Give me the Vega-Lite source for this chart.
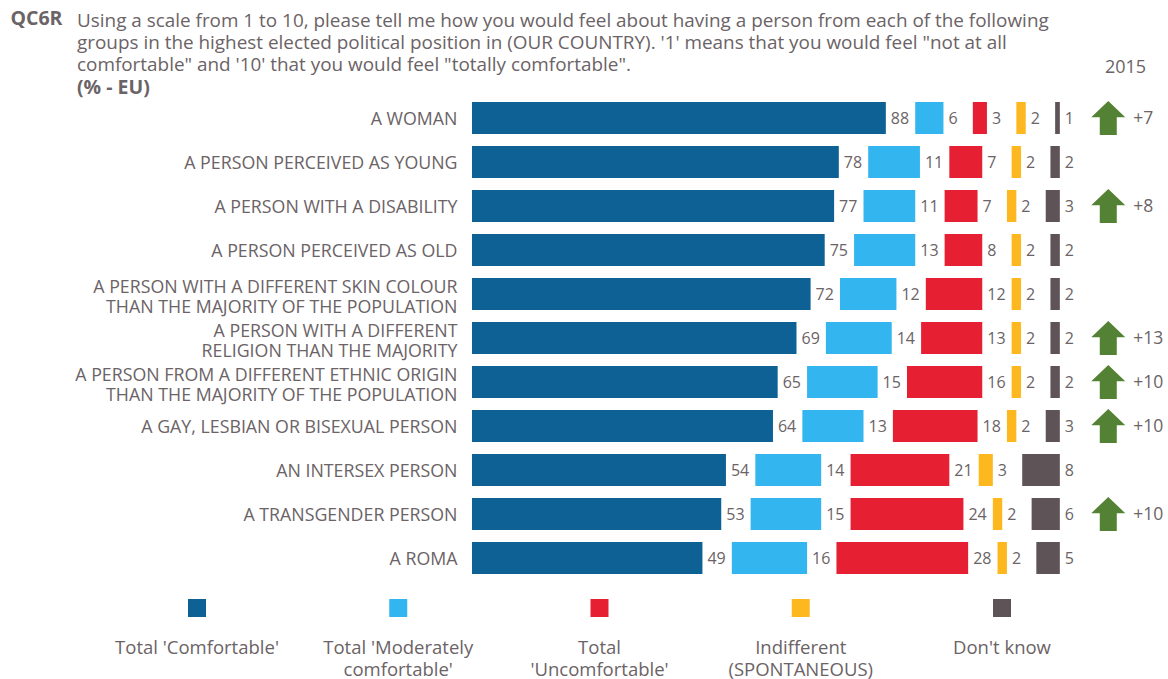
{
  "$schema": "https://vega.github.io/schema/vega-lite/v6.json",
  "width": 696,
  "height": 572,
  "autosize": "none",
  "padding": {"left": 472, "top": 96, "right": 0, "bottom": 11},
  "background": "white",
  "config": {
    "font": "Open Sans",
    "view": {"stroke": null},
    "text": {"font": "Open Sans", "color": "#6b6366"}
  },
  "title": {
    "text": [
      "Using a scale from 1 to 10, please tell me how you would feel about having a person from each of the following",
      "groups in the highest elected political position in (OUR COUNTRY). '1' means that you would feel \"not at all",
      "comfortable\" and '10' that you would feel \"totally comfortable\"."
    ],
    "subtitle": "(% - EU)",
    "anchor": "start",
    "frame": "group",
    "orient": "top",
    "dx": -395,
    "offset": -104,
    "baseline": "alphabetic",
    "fontSize": 18.9,
    "fontWeight": "normal",
    "color": "#6b6366",
    "lineHeight": 22,
    "subtitleFontSize": 19.5,
    "subtitleFontWeight": "bold",
    "subtitleColor": "#6b6366",
    "subtitleLineHeight": 22,
    "subtitlePadding": 4
  },
  "datasets": {
    "answers": [
      {"group": "A WOMAN", "answer": "Total 'Comfortable'", "value": 88},
      {"group": "A WOMAN", "answer": "Total 'Moderately comfortable'", "value": 6},
      {"group": "A WOMAN", "answer": "Total 'Uncomfortable'", "value": 3},
      {"group": "A WOMAN", "answer": "Indifferent (SPONTANEOUS)", "value": 2},
      {"group": "A WOMAN", "answer": "Don't know", "value": 1},
      {"group": "A PERSON PERCEIVED AS YOUNG", "answer": "Total 'Comfortable'", "value": 78},
      {"group": "A PERSON PERCEIVED AS YOUNG", "answer": "Total 'Moderately comfortable'", "value": 11},
      {"group": "A PERSON PERCEIVED AS YOUNG", "answer": "Total 'Uncomfortable'", "value": 7},
      {"group": "A PERSON PERCEIVED AS YOUNG", "answer": "Indifferent (SPONTANEOUS)", "value": 2},
      {"group": "A PERSON PERCEIVED AS YOUNG", "answer": "Don't know", "value": 2},
      {"group": "A PERSON WITH A DISABILITY", "answer": "Total 'Comfortable'", "value": 77},
      {"group": "A PERSON WITH A DISABILITY", "answer": "Total 'Moderately comfortable'", "value": 11},
      {"group": "A PERSON WITH A DISABILITY", "answer": "Total 'Uncomfortable'", "value": 7},
      {"group": "A PERSON WITH A DISABILITY", "answer": "Indifferent (SPONTANEOUS)", "value": 2},
      {"group": "A PERSON WITH A DISABILITY", "answer": "Don't know", "value": 3},
      {"group": "A PERSON PERCEIVED AS OLD", "answer": "Total 'Comfortable'", "value": 75},
      {"group": "A PERSON PERCEIVED AS OLD", "answer": "Total 'Moderately comfortable'", "value": 13},
      {"group": "A PERSON PERCEIVED AS OLD", "answer": "Total 'Uncomfortable'", "value": 8},
      {"group": "A PERSON PERCEIVED AS OLD", "answer": "Indifferent (SPONTANEOUS)", "value": 2},
      {"group": "A PERSON PERCEIVED AS OLD", "answer": "Don't know", "value": 2},
      {"group": "A PERSON WITH A DIFFERENT SKIN COLOUR|THAN THE MAJORITY OF THE POPULATION", "answer": "Total 'Comfortable'", "value": 72},
      {"group": "A PERSON WITH A DIFFERENT SKIN COLOUR|THAN THE MAJORITY OF THE POPULATION", "answer": "Total 'Moderately comfortable'", "value": 12},
      {"group": "A PERSON WITH A DIFFERENT SKIN COLOUR|THAN THE MAJORITY OF THE POPULATION", "answer": "Total 'Uncomfortable'", "value": 12},
      {"group": "A PERSON WITH A DIFFERENT SKIN COLOUR|THAN THE MAJORITY OF THE POPULATION", "answer": "Indifferent (SPONTANEOUS)", "value": 2},
      {"group": "A PERSON WITH A DIFFERENT SKIN COLOUR|THAN THE MAJORITY OF THE POPULATION", "answer": "Don't know", "value": 2},
      {"group": "A PERSON WITH A DIFFERENT|RELIGION THAN THE MAJORITY", "answer": "Total 'Comfortable'", "value": 69},
      {"group": "A PERSON WITH A DIFFERENT|RELIGION THAN THE MAJORITY", "answer": "Total 'Moderately comfortable'", "value": 14},
      {"group": "A PERSON WITH A DIFFERENT|RELIGION THAN THE MAJORITY", "answer": "Total 'Uncomfortable'", "value": 13},
      {"group": "A PERSON WITH A DIFFERENT|RELIGION THAN THE MAJORITY", "answer": "Indifferent (SPONTANEOUS)", "value": 2},
      {"group": "A PERSON WITH A DIFFERENT|RELIGION THAN THE MAJORITY", "answer": "Don't know", "value": 2},
      {"group": "A PERSON FROM A DIFFERENT ETHNIC ORIGIN|THAN THE MAJORITY OF THE POPULATION", "answer": "Total 'Comfortable'", "value": 65},
      {"group": "A PERSON FROM A DIFFERENT ETHNIC ORIGIN|THAN THE MAJORITY OF THE POPULATION", "answer": "Total 'Moderately comfortable'", "value": 15},
      {"group": "A PERSON FROM A DIFFERENT ETHNIC ORIGIN|THAN THE MAJORITY OF THE POPULATION", "answer": "Total 'Uncomfortable'", "value": 16},
      {"group": "A PERSON FROM A DIFFERENT ETHNIC ORIGIN|THAN THE MAJORITY OF THE POPULATION", "answer": "Indifferent (SPONTANEOUS)", "value": 2},
      {"group": "A PERSON FROM A DIFFERENT ETHNIC ORIGIN|THAN THE MAJORITY OF THE POPULATION", "answer": "Don't know", "value": 2},
      {"group": "A GAY, LESBIAN OR BISEXUAL PERSON", "answer": "Total 'Comfortable'", "value": 64},
      {"group": "A GAY, LESBIAN OR BISEXUAL PERSON", "answer": "Total 'Moderately comfortable'", "value": 13},
      {"group": "A GAY, LESBIAN OR BISEXUAL PERSON", "answer": "Total 'Uncomfortable'", "value": 18},
      {"group": "A GAY, LESBIAN OR BISEXUAL PERSON", "answer": "Indifferent (SPONTANEOUS)", "value": 2},
      {"group": "A GAY, LESBIAN OR BISEXUAL PERSON", "answer": "Don't know", "value": 3},
      {"group": "AN INTERSEX PERSON", "answer": "Total 'Comfortable'", "value": 54},
      {"group": "AN INTERSEX PERSON", "answer": "Total 'Moderately comfortable'", "value": 14},
      {"group": "AN INTERSEX PERSON", "answer": "Total 'Uncomfortable'", "value": 21},
      {"group": "AN INTERSEX PERSON", "answer": "Indifferent (SPONTANEOUS)", "value": 3},
      {"group": "AN INTERSEX PERSON", "answer": "Don't know", "value": 8},
      {"group": "A TRANSGENDER PERSON", "answer": "Total 'Comfortable'", "value": 53},
      {"group": "A TRANSGENDER PERSON", "answer": "Total 'Moderately comfortable'", "value": 15},
      {"group": "A TRANSGENDER PERSON", "answer": "Total 'Uncomfortable'", "value": 24},
      {"group": "A TRANSGENDER PERSON", "answer": "Indifferent (SPONTANEOUS)", "value": 2},
      {"group": "A TRANSGENDER PERSON", "answer": "Don't know", "value": 6},
      {"group": "A ROMA", "answer": "Total 'Comfortable'", "value": 49},
      {"group": "A ROMA", "answer": "Total 'Moderately comfortable'", "value": 16},
      {"group": "A ROMA", "answer": "Total 'Uncomfortable'", "value": 28},
      {"group": "A ROMA", "answer": "Indifferent (SPONTANEOUS)", "value": 2},
      {"group": "A ROMA", "answer": "Don't know", "value": 5}
    ],
    "changes": [
      {"group": "A WOMAN", "change": "+7"},
      {"group": "A PERSON WITH A DISABILITY", "change": "+8"},
      {"group": "A PERSON WITH A DIFFERENT|RELIGION THAN THE MAJORITY", "change": "+13"},
      {"group": "A PERSON FROM A DIFFERENT ETHNIC ORIGIN|THAN THE MAJORITY OF THE POPULATION", "change": "+10"},
      {"group": "A GAY, LESBIAN OR BISEXUAL PERSON", "change": "+10"},
      {"group": "A TRANSGENDER PERSON", "change": "+10"}
    ],
    "legendEntries": [
      {"answer": "Total 'Comfortable'", "caption": "Total 'Comfortable'"},
      {"answer": "Total 'Moderately comfortable'", "caption": "Total 'Moderately|comfortable'"},
      {"answer": "Total 'Uncomfortable'", "caption": "Total|'Uncomfortable'"},
      {"answer": "Indifferent (SPONTANEOUS)", "caption": "Indifferent|(SPONTANEOUS)"},
      {"answer": "Don't know", "caption": "Don't know"}
    ]
  },
  "resolve": {"scale": {"x": "independent"}},
  "encoding": {
    "y": {
      "field": "group", "type": "nominal",
      "scale": {
        "domain": [
          "A WOMAN", "A PERSON PERCEIVED AS YOUNG", "A PERSON WITH A DISABILITY", "A PERSON PERCEIVED AS OLD",
          "A PERSON WITH A DIFFERENT SKIN COLOUR|THAN THE MAJORITY OF THE POPULATION",
          "A PERSON WITH A DIFFERENT|RELIGION THAN THE MAJORITY",
          "A PERSON FROM A DIFFERENT ETHNIC ORIGIN|THAN THE MAJORITY OF THE POPULATION",
          "A GAY, LESBIAN OR BISEXUAL PERSON", "AN INTERSEX PERSON", "A TRANSGENDER PERSON", "A ROMA",
          "legend swatch", "legend caption"
        ],
        "paddingInner": 0.273, "paddingOuter": 0.136
      },
      "axis": {
        "title": "QC6R", "titleAngle": 0, "titleAlign": "left", "titleBaseline": "middle",
        "titleX": -462, "titleY": -78, "titleFontSize": 19.5, "titleFontWeight": "bold", "titleColor": "#6b6366",
        "labelExpr": "indexof(datum.label, 'legend') === 0 ? '' : split(datum.label, '|')",
        "labelOffset": {"condition": {"test": "indexof(datum.label, '|') >= 0", "value": -6}, "value": 2},
        "labelFontSize": 17.8, "labelColor": "#6b6366", "labelLineHeight": 20, "labelLimit": 460,
        "labelPadding": 15, "ticks": false, "domain": false, "grid": false
      }
    }
  },
  "layer": [
    {
      "data": {"name": "answers"},
      "transform": [
        {"window": [{"op": "sum", "field": "value", "as": "cum"}, {"op": "row_number", "as": "idx"}], "groupby": ["group"]},
        {"calculate": "datum.cum - datum.value + (datum.idx - 1) * 6.25", "as": "start"},
        {"calculate": "datum.start + datum.value", "as": "end"}
      ],
      "layer": [
        {
          "mark": {"type": "bar"},
          "encoding": {
            "x": {
              "field": "start", "type": "quantitative",
              "scale": {"domain": [0, 148], "nice": false, "zero": false},
              "axis": null
            },
            "x2": {"field": "end"},
            "color": {
              "field": "answer", "type": "nominal", "legend": null,
              "scale": {
                "domain": ["Total 'Comfortable'", "Total 'Moderately comfortable'", "Total 'Uncomfortable'", "Indifferent (SPONTANEOUS)", "Don't know"],
                "range": ["#0d6194", "#33b5f0", "#e61f33", "#fdb71f", "#5e5458"]
              }
            }
          }
        },
        {
          "mark": {"type": "text", "align": "left", "baseline": "middle", "dx": 5, "dy": 1, "fontSize": 16, "color": "#6b6366"},
          "encoding": {
            "x": {"field": "end", "type": "quantitative", "scale": {"domain": [0, 148], "nice": false, "zero": false}, "axis": null},
            "text": {"field": "value", "type": "quantitative"}
          }
        }
      ]
    },
    {
      "data": {"name": "changes"},
      "mark": {
        "type": "point", "filled": true, "size": 1156, "opacity": 1, "color": "#548235",
        "shape": "M0,-1L1,-0.05L0.5,-0.05L0.5,1L-0.5,1L-0.5,-0.05L-1,-0.05Z"
      },
      "encoding": {
        "x": {"datum": 135.3, "type": "quantitative", "scale": {"domain": [0, 148], "nice": false, "zero": false}, "axis": null}
      }
    },
    {
      "data": {"name": "changes"},
      "mark": {"type": "text", "align": "left", "baseline": "middle", "dy": 1, "fontSize": 17.5, "color": "#6b6366"},
      "encoding": {
        "x": {
          "datum": 140.6, "type": "quantitative",
          "scale": {"domain": [0, 148], "nice": false, "zero": false},
          "axis": {
            "orient": "top", "title": "2015", "titleX": 653, "titleY": -20, "titleAlign": "center",
            "titleFontSize": 18, "titleFontWeight": "normal", "titleColor": "#6b6366",
            "labels": false, "ticks": false, "domain": false, "grid": false
          }
        },
        "text": {"field": "change", "type": "nominal"}
      }
    },
    {
      "data": {"name": "legendEntries"},
      "mark": {"type": "square", "size": 324, "opacity": 1, "yOffset": 6},
      "encoding": {
        "x": {
          "field": "answer", "type": "nominal", "sort": null, "axis": null,
          "scale": {"type": "point", "padding": 0, "range": [-275, 530]}
        },
        "y": {"datum": "legend swatch", "type": "nominal"},
        "color": {"field": "answer", "type": "nominal", "legend": null}
      }
    },
    {
      "data": {"name": "legendEntries"},
      "mark": {"type": "text", "align": "center", "baseline": "top", "dy": -7, "fontSize": 18.5, "lineBreak": "|", "lineHeight": 22, "color": "#6b6366"},
      "encoding": {
        "x": {
          "field": "answer", "type": "nominal", "sort": null, "axis": null,
          "scale": {"type": "point", "padding": 0, "range": [-275, 530]}
        },
        "y": {"datum": "legend caption", "type": "nominal"},
        "text": {"field": "caption", "type": "nominal"}
      }
    }
  ]
}
